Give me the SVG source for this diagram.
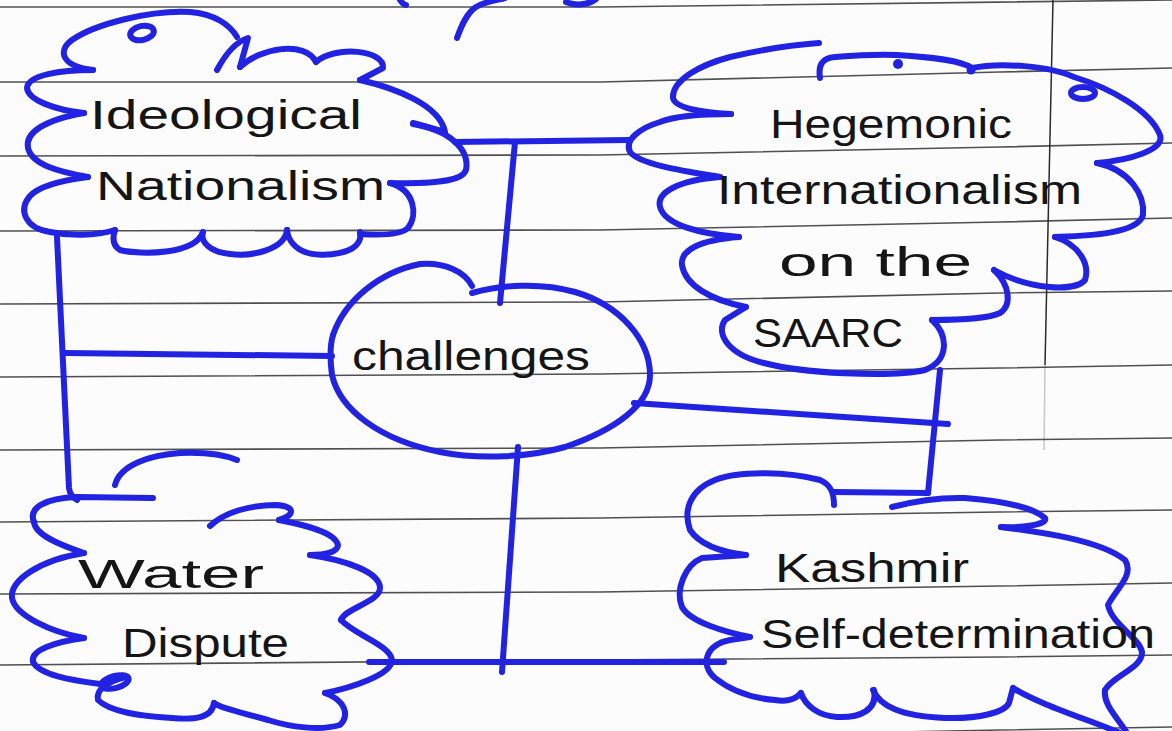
<svg xmlns="http://www.w3.org/2000/svg" width="1172" height="731" viewBox="0 0 1172 731">
  <style>
    .paper { fill: #fcfcfc; }
    .rule { fill: none; stroke: #505050; stroke-width: 1.6; }
    .margin { fill: none; stroke: #2a2a2a; stroke-width: 1.5; }
    .ink { fill: none; stroke: #2222e2; stroke-width: 6; stroke-linecap: round; stroke-linejoin: round; }
    .txt { font-family: "Liberation Sans", "DejaVu Sans", sans-serif; fill: #151515; font-size: 40px; }
  </style>
  <rect class="paper" x="0" y="0" width="1172" height="731"/>
  <!-- ruled paper -->
  <g id="paper-lines">
    <polyline class="rule" points="0,7 600,7 1172,0"/>
    <polyline class="rule" points="0,82 600,82 1000,72 1172,68"/>
    <polyline class="rule" points="0,156 600,155 1000,147 1172,143"/>
    <polyline class="rule" points="0,231 600,230 1000,222 1172,218"/>
    <polyline class="rule" points="0,304 600,302 1000,293 1172,291"/>
    <polyline class="rule" points="0,377 600,374 1000,368 1172,365"/>
    <polyline class="rule" points="0,450 600,448 1000,440 1172,438"/>
    <polyline class="rule" points="0,522 600,518 1000,512 1172,510"/>
    <polyline class="rule" points="0,594 600,592 1000,586 1172,583"/>
    <polyline class="rule" points="0,665 600,660 1000,657 1172,655"/>
    <polyline class="rule" points="600,738 1000,730 1172,727"/>
    <path class="margin" d="M1053,0 L1045,365"/>
    <path class="margin" d="M1045,365 L1044,450" stroke-opacity="0.25"/>
  </g>
  <!-- fragment of title at the top edge -->
  <g id="title-fragment">
    <path class="ink" d="M457,38 C462,24 467,13 476,7 C486,1 498,0 505,-2"/>
    <path class="ink" d="M399,-2 Q402,4 406,5"/>
    <path class="ink" d="M566,2 C575,6 588,5 596,-1"/>
  </g>
  <!-- connectors -->
  <g id="connectors">
    <path class="ink" d="M455,142 L629,140"/>
    <path class="ink" d="M515,142 L500,303"/>
    <path class="ink" d="M65,353 L332,356"/>
    <path class="ink" d="M57,237 L69,488 Q70,496 77,500"/>
    <path class="ink" d="M634,403 L948,424"/>
    <path class="ink" d="M940,370 L928,493"/>
    <path class="ink" d="M518,447 L502,672"/>
    <path class="ink" d="M369,662 L724,662"/>
  </g>
  <!-- Ideological Nationalism -->
  <g id="node-ideological">
    <path class="ink" d="M93,70 C60,66 58,50 72,40 C95,24 150,10 190,12 C215,14 230,25 237,37"/>
    <ellipse class="ink" cx="142" cy="33" rx="12" ry="7" transform="rotate(-12 142 33)"/>
    <path class="ink" d="M217,70 C225,55 235,42 248,38 L240,67"/>
    <path class="ink" d="M240,67 C260,48 305,40 316,62"/>
    <path class="ink" d="M316,62 C335,45 385,50 383,68 L360,80"/>
    <path class="ink" d="M360,80 C395,88 440,105 445,132 L413,123"/>
    <path class="ink" d="M413,124 C450,130 470,150 466,170 C462,182 430,184 390,183"/>
    <path class="ink" d="M390,183 C415,190 418,215 408,228 C400,236 375,235 360,234"/>
    <path class="ink" d="M360,232 C365,255 320,258 305,252 C295,248 288,240 287,230"/>
    <path class="ink" d="M287,230 C285,250 250,257 230,254 C210,252 200,242 203,232"/>
    <path class="ink" d="M203,232 C195,255 140,255 120,250 C112,245 113,236 115,230"/>
    <path class="ink" d="M115,230 C95,236 70,236 50,232 C25,228 18,210 30,196 C40,185 65,180 88,177"/>
    <path class="ink" d="M88,177 C60,172 32,165 28,148 C25,132 45,120 84,113"/>
    <path class="ink" d="M84,113 C55,110 28,100 27,88 C28,75 60,70 93,70"/>
    <text class="txt" x="90" y="129" textLength="272" lengthAdjust="spacingAndGlyphs">Ideological</text>
    <text class="txt" x="96" y="200" textLength="289" lengthAdjust="spacingAndGlyphs">Nationalism</text>
  </g>
  <!-- Hegemonic Internationalism on the SAARC -->
  <g id="node-hegemonic">
    <path class="ink" d="M731,114 C700,112 675,108 673,98 C672,80 700,65 730,57 C760,50 790,45 819,43"/>
    <path class="ink" d="M820,78 C818,65 822,58 835,57 C860,55 880,54 897,55 C930,57 960,60 972,68 C1000,62 1050,66 1074,77 C1110,88 1150,110 1160,135 C1165,150 1130,160 1097,163"/>
    <circle cx="898" cy="64" r="5" fill="#2222e2"/>
    <circle cx="971" cy="70" r="4.5" fill="#2222e2"/>
    <ellipse class="ink" cx="1083" cy="93" rx="12" ry="6"/>
    <path class="ink" d="M1097,163 C1130,170 1145,195 1143,215 C1138,235 1080,236 1055,237"/>
    <path class="ink" d="M1055,237 C1080,245 1090,265 1085,280 C1075,292 1030,290 994,270"/>
    <path class="ink" d="M994,270 C1010,285 1012,305 1000,313 C985,320 950,320 932,320"/>
    <path class="ink" d="M932,320 C948,335 950,360 925,370 C890,378 800,373 764,363 C730,355 715,335 725,320 L746,307"/>
    <path class="ink" d="M746,307 C710,300 685,285 682,265 C680,250 700,240 739,237"/>
    <path class="ink" d="M739,237 C700,234 665,225 660,207 C656,192 680,180 720,177"/>
    <path class="ink" d="M720,177 C690,172 640,165 630,152 C624,140 640,128 660,122 C675,116 700,114 731,114"/>
    <text class="txt" x="770" y="138" textLength="242" lengthAdjust="spacingAndGlyphs">Hegemonic</text>
    <text class="txt" x="717" y="204" font-size="38" textLength="365" lengthAdjust="spacingAndGlyphs">Internationalism</text>
    <text class="txt" x="779" y="276" textLength="193" lengthAdjust="spacingAndGlyphs">on   the</text>
    <text class="txt" x="753" y="347" textLength="150" lengthAdjust="spacingAndGlyphs">SAARC</text>
  </g>
  <!-- Challenges -->
  <g id="node-challenges">
    <path class="ink" d="M333,335 C345,300 380,272 420,264 C445,262 465,272 472,286"/>
    <path class="ink" d="M472,293 C500,285 540,282 575,292 C620,305 650,340 650,375 C650,405 615,430 565,447 C530,457 480,460 440,452 C380,440 340,410 332,375 C330,360 330,345 333,335"/>
    <text class="txt" x="352" y="370" font-size="44" textLength="238" lengthAdjust="spacingAndGlyphs">challenges</text>
  </g>
  <!-- Water Dispute -->
  <g id="node-water">
    <path class="ink" d="M115,485 C120,465 150,455 180,453 C205,452 225,455 237,460"/>
    <path class="ink" d="M34,522 C28,508 45,498 77,497 L153,498"/>
    <path class="ink" d="M210,526 C225,512 250,505 276,505 C295,506 296,515 279,520"/>
    <path class="ink" d="M279,520 C305,525 335,532 338,545 C338,552 325,555 310,555"/>
    <path class="ink" d="M310,555 C345,560 380,572 380,588 C380,602 345,608 341,620"/>
    <path class="ink" d="M341,620 C355,635 390,645 392,660 C392,675 350,688 325,693"/>
    <path class="ink" d="M325,693 C345,700 350,715 340,725 C320,731 290,727 268,720 C240,712 220,708 214,703"/>
    <path class="ink" d="M214,703 C212,718 195,720 172,718 C140,716 110,712 98,700 C95,688 112,680 126,677"/>
    <ellipse class="ink" cx="115" cy="682" rx="14" ry="6" transform="rotate(-15 115 682)"/>
    <path class="ink" d="M100,684 C70,680 40,675 33,662 C30,650 55,642 84,638"/>
    <path class="ink" d="M84,638 C50,632 15,615 12,598 C10,580 40,560 84,553"/>
    <path class="ink" d="M84,553 C60,545 35,535 34,522"/>
    <text class="txt" x="78" y="588" font-size="44" textLength="186" lengthAdjust="spacingAndGlyphs">Water</text>
    <text class="txt" x="122" y="657" font-size="44" textLength="167" lengthAdjust="spacingAndGlyphs">Dispute</text>
  </g>
  <!-- Kashmir Self-determination -->
  <g id="node-kashmir">
    <path class="ink" d="M746,555 C720,552 700,545 690,530 C683,510 690,490 715,480 C740,470 790,472 820,480 C832,485 834,495 834,505"/>
    <path class="ink" d="M834,492 L928,493"/>
    <path class="ink" d="M892,507 Q930,497 965,498 C990,500 1030,505 1045,518 C1048,525 1020,528 1001,527"/>
    <path class="ink" d="M1001,527 C1040,532 1100,540 1125,560 C1135,575 1115,590 1108,605 C1112,625 1140,638 1142,652 C1143,668 1112,676 1105,690"/>
    <path class="ink" d="M1105,690 C1103,705 1118,718 1127,733"/>
    <path class="ink" d="M1013,688 C1040,705 1090,720 1120,733"/>
    <path class="ink" d="M873,690 C880,706 900,716 945,718 C980,719 1005,712 1009,703 L1013,688"/>
    <path class="ink" d="M874,690 C878,710 860,718 837,717 C818,716 805,705 801,693"/>
    <path class="ink" d="M801,693 C795,700 785,702 775,700 C750,698 730,690 715,678 C700,665 705,645 730,640 L750,637"/>
    <path class="ink" d="M750,637 C725,632 690,622 682,607 C675,590 685,565 702,558 L746,555"/>
    <text class="txt" x="775" y="582" font-size="44" textLength="194" lengthAdjust="spacingAndGlyphs">Kashmir</text>
    <text class="txt" x="761" y="648" textLength="394" lengthAdjust="spacingAndGlyphs">Self-determination</text>
  </g>
</svg>
